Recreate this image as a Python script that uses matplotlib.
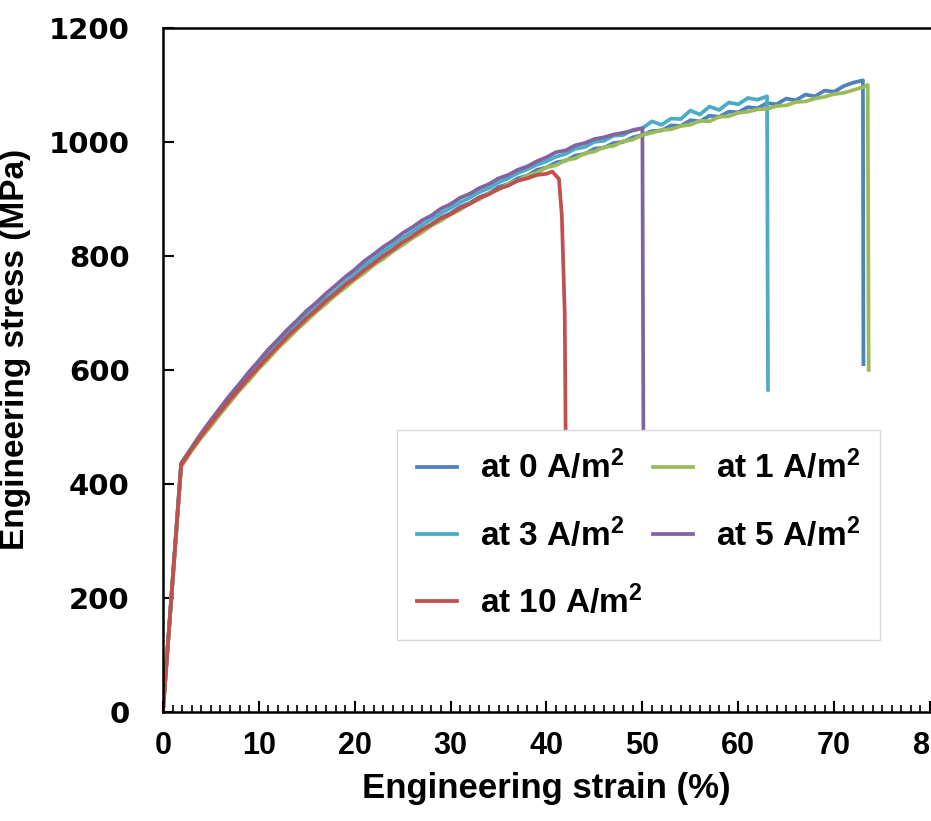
import matplotlib
matplotlib.use('Agg')
import matplotlib.pyplot as plt
from matplotlib.ticker import MultipleLocator

# Dados (deformação em %, tensão em MPa)
strain_pre = [0, 1.9]
strain_grid = [3, 4, 5, 6, 7, 8, 9, 10, 11, 12, 13, 14, 15, 16, 17, 18, 19, 20,
               21, 22, 23, 24, 25, 26, 27, 28, 29, 30, 31, 32, 33, 34, 35, 36, 37, 38,
               39, 40, 41, 42, 43, 44, 45, 46, 47, 48, 49, 50, 51, 52, 53, 54, 55, 56,
               57, 58, 59, 60, 61, 62, 63, 64, 65, 66, 67, 68, 69, 70, 71, 72, 73]

pre_0 = [0, 434]
body_0 = [462, 485, 506, 527, 548, 567, 587, 605, 624, 641, 658, 674, 690, 704, 720, 733,
          748, 761, 775, 787, 800, 811, 823, 834, 846, 855, 867, 875, 886, 893, 903, 910,
          921, 926, 936, 941, 951, 955, 964, 967, 976, 979, 988, 990, 998, 1000, 1008, 1012,
          1019, 1020, 1029, 1028, 1038, 1036, 1046, 1044, 1053, 1052, 1061, 1059, 1068, 1066,
          1076, 1073, 1083, 1080, 1090, 1088, 1098, 1104, 1108]
end_x_0 = [73.05]
end_y_0 = [610]

pre_1 = [0, 430]
body_1 = [458, 481, 501, 523, 543, 564, 582, 602, 619, 638, 654, 671, 686, 702, 716, 731,
          744, 758, 770, 784, 795, 808, 819, 831, 841, 853, 862, 873, 881, 892, 899, 910,
          916, 926, 932, 941, 946, 955, 959, 968, 971, 980, 983, 991, 993, 1001, 1004, 1012,
          1016, 1021, 1022, 1028, 1030, 1037, 1036, 1044, 1045, 1051, 1053, 1057, 1058, 1063,
          1064, 1070, 1071, 1076, 1079, 1084, 1086, 1091, 1096]
end_x_1 = [73.5, 73.6]
end_y_1 = [1100, 600]

pre_3 = [0, 435]
body_3 = [463, 487, 509, 530, 551, 571, 591, 610, 629, 646, 664, 679, 696, 710, 726, 739,
          754, 769, 783, 795, 808, 819, 832, 842, 854, 864, 875, 884, 894, 902, 912, 919,
          929, 936, 945, 952, 960, 966, 974, 979, 988, 991, 1000, 1002, 1011, 1012, 1021, 1024,
          1036, 1030, 1041, 1040, 1055, 1048, 1062, 1056, 1069, 1066, 1077, 1074, 1080]
end_x_3 = [63.1]
end_y_3 = [565]

pre_5 = [0, 436]
body_5 = [464, 489, 512, 534, 556, 576, 597, 616, 636, 653, 671, 687, 704, 718, 734, 748,
          763, 776, 791, 803, 816, 827, 840, 850, 862, 871, 883, 891, 902, 909, 919, 926,
          936, 942, 951, 957, 966, 973, 982, 985, 994, 998, 1005, 1008, 1013, 1016, 1020, 1024]
end_x_5 = [50.15]
end_y_5 = [250]

pre_10 = [0, 433]
body_10 = [461, 484, 506, 527, 548, 567, 587, 605, 624, 641, 659, 674, 691, 705, 721, 734,
           749, 761, 775, 787, 800, 811, 824, 834, 846, 855, 866, 873, 884, 891, 902, 908,
           918, 923, 932, 936, 942, 944]
end_x_10 = [40.6, 41.3, 41.6, 41.9, 42.1]
end_y_10 = [948, 935, 870, 700, 250]

labels = ['at 0 A/m$\\mathbf{^2}$', 'at 1 A/m$\\mathbf{^2}$', 'at 3 A/m$\\mathbf{^2}$',
          'at 5 A/m$\\mathbf{^2}$', 'at 10 A/m$\\mathbf{^2}$']
colors = ['#4F81BD', '#9BBB59', '#4BACC6', '#8064A2', '#C0504D']

plt.rcParams['font.family'] = ['Liberation Sans', 'DejaVu Sans']
plt.rcParams['mathtext.fontset'] = 'custom'
plt.rcParams['mathtext.bf'] = 'Liberation Sans:bold'
plt.rcParams['mathtext.rm'] = 'Liberation Sans'

fig = plt.figure(figsize=(9.31, 8.21), dpi=100)
ax = fig.add_axes([0.175, 0.133, 0.824, 0.833])

series = [
    (pre_0, body_0, end_x_0, end_y_0),
    (pre_1, body_1, end_x_1, end_y_1),
    (pre_3, body_3, end_x_3, end_y_3),
    (pre_5, body_5, end_x_5, end_y_5),
    (pre_10, body_10, end_x_10, end_y_10),
]
lines = []
for (pre, body, ex, ey), lab, c in zip(series, labels, colors):
    x = strain_pre + strain_grid[:len(body)] + ex
    y = pre + body + ey
    ln, = ax.plot(x, y, color=c, lw=2.7, label=lab, solid_joinstyle='round')
    lines.append(ln)

# ordem de desenho: verde por cima do azul no fim, vermelho por cima no inicio
lines[0].set_zorder(2)
lines[2].set_zorder(2.1)
lines[3].set_zorder(2.2)
lines[1].set_zorder(2.3)
lines[4].set_zorder(2.4)

ax.set_xlim(0, 80)
ax.set_ylim(0, 1200)
ax.xaxis.set_major_locator(MultipleLocator(10))
ax.xaxis.set_minor_locator(MultipleLocator(1))
ax.yaxis.set_major_locator(MultipleLocator(200))

for s in ['left', 'bottom', 'top']:
    ax.spines[s].set_linewidth(1.8)
ax.spines['right'].set_visible(False)

ax.tick_params(axis='y', which='major', direction='in', length=8, width=1.5, pad=24,
               right=False)
ax.tick_params(axis='x', which='major', direction='in', length=8, width=1.5, pad=14,
               top=False)
ax.tick_params(axis='x', which='minor', direction='in', length=5, width=1.2, top=False)

for t in ax.get_yticklabels():
    t.set_family('DejaVu Sans')
    t.set_fontweight('bold')
    t.set_fontsize(21)
for t in ax.get_xticklabels():
    t.set_fontweight('bold')
    t.set_fontsize(22)

ax.set_xlabel('Engineering strain (%)', fontweight='bold', fontsize=25, labelpad=8)
ax.set_ylabel('Engineering stress (MPa)', fontweight='bold', fontsize=24)
ax.yaxis.set_label_coords(-0.172, 0.53)

order = [0, 2, 4, 1, 3]
leg = ax.legend([lines[i] for i in order], [labels[i] for i in order], ncol=2,
                loc='upper left', bbox_to_anchor=(0.305, 0.412), frameon=True,
                fancybox=False, framealpha=1, edgecolor='#D9D9D9',
                prop={'family': 'Liberation Sans', 'weight': 'bold', 'size': 24},
                handlelength=1.2, handletextpad=0.7, columnspacing=0.3,
                labelspacing=0.95, borderpad=0.6, borderaxespad=0)
leg.get_frame().set_linewidth(1.0)
for h in leg.get_lines():
    h.set_linewidth(2.7)

fig.savefig('out.png', dpi=100)
